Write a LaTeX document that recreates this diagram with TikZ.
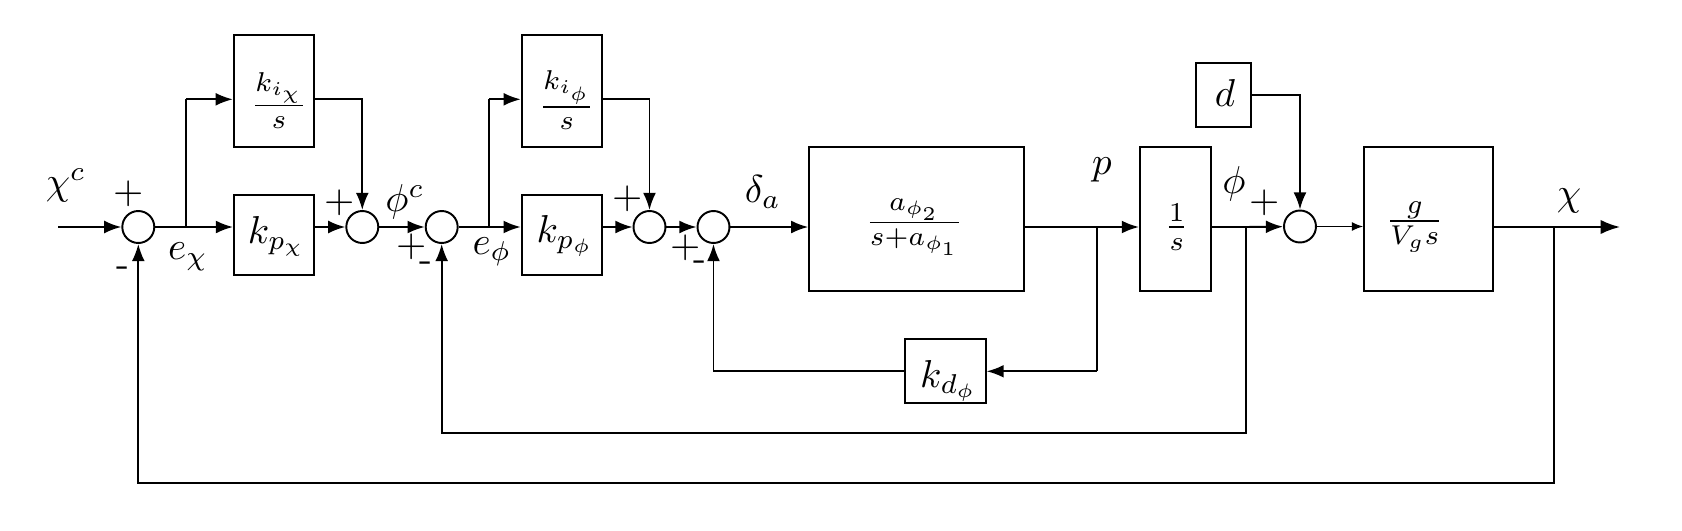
\documentclass[tikz,border=0pt]{standalone}
\usetikzlibrary{arrows.meta}
\tikzset{
  blk/.style={draw, line width=0.5pt, inner sep=0pt},
  sumc/.style={draw, circle, line width=0.5pt, minimum size=8.22pt, inner sep=0pt},
  arr/.style={-{Latex[length=4.4pt,width=3.3pt]}, line width=0.5pt},
  bigarr/.style={-{Latex[length=5pt,width=3.7pt]}, line width=0.5pt},
  thinarr/.style={-{Latex[length=2.9pt,width=2.3pt]}, line width=0.3pt},
  ln/.style={line width=0.5pt},
  sig/.style={inner sep=0pt},
}
\begin{document}
\begin{tikzpicture}[x=0.257pt, y=-0.257pt]
\useasboundingbox (0,0) rectangle (1682,531);

% summing junctions
\node[sumc] (s1) at (138.3,227) {};
\node[sumc] (s2) at (362.3,227) {};
\node[sumc] (s3) at (441.7,227) {};
\node[sumc] (s4) at (649.5,227) {};
\node[sumc] (s5) at (713.5,227) {};
\node[sumc] (s6) at (1300,226.5) {};

% blocks
\node[blk, minimum width=20.64pt, minimum height=28.86pt,
  label={[shift={(5,9.3)}]center:$\frac{k_{i_\chi}}{s}$}] (kix) at (273.9,91.2) {};
\node[blk, minimum width=20.56pt, minimum height=20.48pt,
  label={[shift={(2.5,1.2)}]center:$k_{p_\chi}$}] (kpx) at (274,235.3) {};
\node[blk, minimum width=20.56pt, minimum height=28.86pt,
  label={[shift={(5,9.3)}]center:$\frac{k_{i_\phi}}{s}$}] (kif) at (561.7,91.2) {};
\node[blk, minimum width=20.56pt, minimum height=20.48pt,
  label={[shift={(3.3,0.8)}]center:$k_{p_\phi}$}] (kpf) at (561.7,235) {};
\node[blk, minimum width=55.18pt, minimum height=36.93pt,
  label={[shift={(-2.3,8)}]center:$\frac{a_{\phi_2}}{s+a_{\phi_1}}$}] (plant) at (916.6,219.2) {};
\node[blk, minimum width=18.17pt, minimum height=36.93pt,
  label={[shift={(1.4,7.8)}]center:$\frac{1}{s}$}] (ione) at (1175.3,219.2) {};
\node[blk, minimum width=14.21pt, minimum height=16.55pt,
  label={[shift={(1.7,-2)}]center:$d$}] (d) at (1223.3,95) {};
\node[blk, minimum width=33.23pt, minimum height=36.93pt,
  label={[shift={(-14,7.5)}]center:$\frac{g}{V_g s}$}] (g) at (1428.7,219.2) {};
\node[blk, minimum width=20.74pt, minimum height=16.45pt,
  label={[shift={(3.3,9.5)}]center:$k_{d_\phi}$}] (kd) at (945.3,371.3) {};

% branch points and corners
\coordinate (in) at (58,227);
\coordinate (b1) at (186,227);
\coordinate (u1) at (186,99.3);
\coordinate (b2) at (489.3,227);
\coordinate (u2) at (489.3,99.3);
\coordinate (bp) at (1096.7,227);
\coordinate (fkd) at (1096.7,371.3);
\coordinate (bphi) at (1246,227);
\coordinate (fphi) at (1246,433.3);
\coordinate (bchi) at (1553.7,227);
\coordinate (fchi) at (1553.7,483.3);
\coordinate (out) at (1620,227);

% connectors
\draw[arr] (in) -- (s1);
\draw[arr] (s1) -- (s1 -| kpx.west);
\draw[ln] (b1) -- (u1);
\draw[arr] (u1) -- (u1 -| kix.west);
\draw[arr] (kix.east |- u1) -| (s2);
\draw[arr] (kpx.east |- s2) -- (s2);
\draw[arr] (s2) -- (s3);
\draw[arr] (s3) -- (s3 -| kpf.west);
\draw[ln] (b2) -- (u2);
\draw[arr] (u2) -- (u2 -| kif.west);
\draw[arr] (kif.east |- u2) -| (s4);
\draw[arr] (kpf.east |- s4) -- (s4);
\draw[arr] (s4) -- (s5);
\draw[arr] (s5) -- (s5 -| plant.west);
\draw[arr] (plant.east |- bp) -- (bp -| ione.west);
\draw[ln] (bp) -- (fkd);
\draw[arr] (fkd) -- (fkd -| kd.east);
\draw[arr] (kd.west |- fkd) -| (s5);
\draw[arr] (ione.east |- bphi) -- (bphi) -- (s6);
\draw[arr] (bphi) -- (fphi) -| (s3);
\draw[arr] (d.east) -| (s6);
\draw[thinarr] (s6) -- (s6 -| g.west);
\draw[bigarr] (g.east |- out) -- (out);
\draw[arr] (bchi) -- (fchi) -| (s1);

% signal labels
\node[sig] (lchic) at (66,185) {$\chi^c$};
\node[sig] (p1) at (129,194) {+};
\node[sig] (m1) at (123,272) {-};
\node[sig] (lex) at (188,257) {$e_\chi$};
\node[sig] (p2) at (340,203) {+};
\node[sig] (lphic) at (405,202) {$\phi^c$};
\node[sig] (p3) at (412,247) {+};
\node[sig] (m3) at (426,267) {-};
\node[sig] (lephi) at (492,252) {$e_\phi$};
\node[sig] (p4) at (628,199) {+};
\node[sig] (p5) at (686,248) {+};
\node[sig] (m5) at (700,266) {-};
\node[sig] (lda) at (763,192) {$\delta_a$};
\node[sig] (lp) at (1102,170) {$p$};
\node[sig] (lphi) at (1234,184) {$\phi$};
\node[sig] (p6) at (1265,203) {+};
\node[sig] (lchi) at (1569,201) {$\chi$};
\end{tikzpicture}
\end{document}
